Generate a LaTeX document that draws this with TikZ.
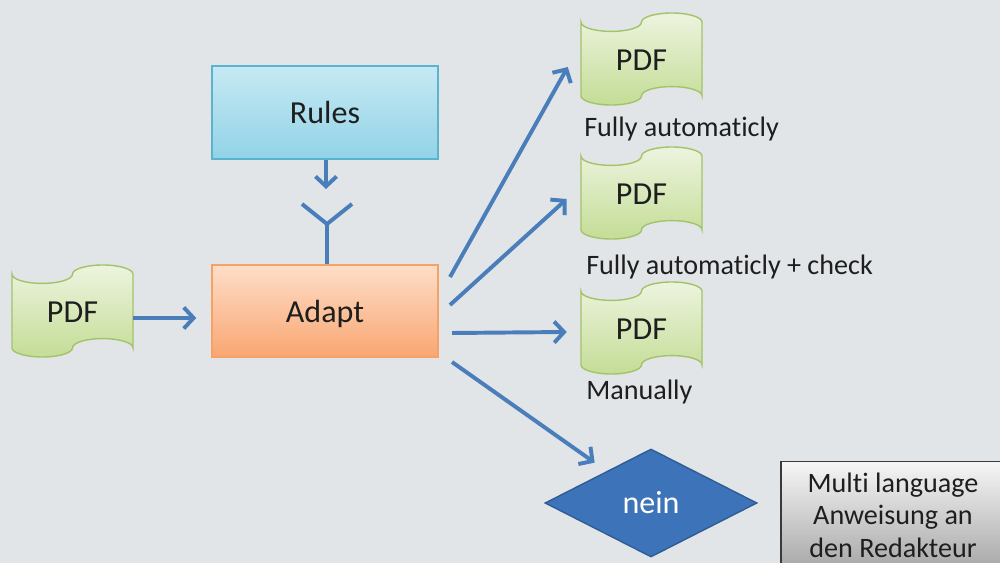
\documentclass[tikz,border=0pt]{standalone}
\usepackage{fontspec}
\setmainfont{Carlito}[Ligatures=NoCommon]
\usetikzlibrary{arrows.meta,shapes.geometric,calc}
\definecolor{bgcol}{HTML}{E2E5E8}
\definecolor{arrowblue}{HTML}{4A7EBB}
\definecolor{greentop}{HTML}{EDF4DF}
\definecolor{greenbot}{HTML}{C4DD96}
\definecolor{greenline}{HTML}{A3C36A}
\definecolor{rulestop}{HTML}{C6E9F3}
\definecolor{rulesbot}{HTML}{92D3E7}
\definecolor{rulesline}{HTML}{5BB4CD}
\definecolor{adapttop}{HTML}{FDDEC8}
\definecolor{adaptbot}{HTML}{FAA672}
\definecolor{adaptline}{HTML}{F5A264}
\definecolor{diafill}{HTML}{3D74B9}
\definecolor{dialine}{HTML}{2F5C94}
\definecolor{graytop}{HTML}{F6F6F6}
\definecolor{graybot}{HTML}{A8A8A8}
\definecolor{grayline}{HTML}{3A3A3A}
\definecolor{txt}{HTML}{1E1E1E}
\tikzset{
  boxtext/.style={font=\fontsize{22.8pt}{27pt}\selectfont, text=txt},
  lbl/.style={font=\fontsize{20pt}{24pt}\selectfont, text=txt, inner sep=0pt},
  rulebox/.style={rectangle, draw=rulesline, line width=1pt, top color=rulestop, bottom color=rulesbot,
     minimum width=226*0.025cm, minimum height=93*0.025cm, boxtext},
  adaptbox/.style={rectangle, draw=adaptline, line width=1pt, top color=adapttop, bottom color=adaptbot,
     minimum width=226*0.025cm, minimum height=92*0.025cm, boxtext, text depth=0pt},
  tapenode/.style={rectangle, minimum width=121*0.025cm, minimum height=92*0.025cm, inner sep=0pt, boxtext},
  tapefill/.style={draw=greenline, line width=1pt, top color=greentop, bottom color=greenbot},
  dia/.style={diamond, draw=dialine, line width=1pt, fill=diafill, inner sep=0pt,
     minimum width=212*0.025cm, minimum height=108*0.025cm, boxtext, text=white},
  graybox/.style={rectangle, draw=grayline, line width=0.8pt, top color=graytop, bottom color=graybot,
     minimum width=224*0.025cm, minimum height=107*0.025cm, align=center,
     font=\fontsize{20pt}{23.1pt}\selectfont, text=txt},
  arr/.style={draw=arrowblue, line width=2.8pt, -{Straight Barb[length=7pt,width=15pt]}},
  plainline/.style={draw=arrowblue, line width=2.8pt},
}
\newcommand\pdftape[3]{%
  \begin{scope}[shift={(#2,#3)}]
    \path[tapefill] (0,9.2)
      .. controls (0,14.28) and (13.55,18.4) .. (30.25,18.4)
      .. controls (46.95,18.4) and (60.5,14.28) .. (60.5,9.2)
      .. controls (60.5,4.12) and (74.05,0) .. (90.75,0)
      .. controls (107.45,0) and (121,4.12) .. (121,9.2)
      -- (121,82.8)
      .. controls (121,77.72) and (107.45,73.6) .. (90.75,73.6)
      .. controls (74.05,73.6) and (60.5,77.72) .. (60.5,82.8)
      .. controls (60.5,87.88) and (46.95,92) .. (30.25,92)
      .. controls (13.55,92) and (0,87.88) .. (0,82.8) -- cycle;
  \end{scope}
  \node[tapenode] (#1) at (#2+60.5,#3+47) {PDF};%
}
\begin{document}
\begin{tikzpicture}[x=0.025cm, y=-0.025cm]
\useasboundingbox (0,0) rectangle (1000,563);
\fill[bgcol] (0,0) rectangle (1000,563);

% boxes
\node[rulebox] (rules) at (325,112.5) {Rules};
\node[adaptbox] (adapt) at (325,311) {Adapt};

% PDF shapes
\pdftape{pdfin}{12}{265}
\pdftape{pdfa}{581}{13}
\pdftape{pdfb}{581}{147}
\pdftape{pdfc}{581}{282}

% labels
\node[lbl, anchor=base west] (la) at (584,137) {Fully automat\kern0pt icly};
\node[lbl, anchor=base west] (lb) at (586,275) {Fully automat\kern0pt icly + check};
\node[lbl, anchor=base west] (lc) at (586,400) {Manually};

% decision and note
\node[dia] (nein) at (651,503) {nein};
\node[graybox] (multi) at (893,515) {Mult\kern0pt i language\\Anweisung an\\den Redakteur};

% rules -> fork
\coordinate (rtip) at (326,189);
\draw[arr] (rules.south -| rtip) -- (rtip);
\coordinate (fl) at (302,204);
\coordinate (fr) at (352,204);
\coordinate (fc) at (327,224);
\draw[plainline] (fl) -- (fc) -- (fr);
\draw[plainline] (fc) -- (fc |- adapt.north);

% input arrow
\draw[arr] ($(pdfin.east)+(0,6)$) -- ($(adapt.west)+(-15,7)$);

% output arrows
\coordinate (sa) at (450,277);
\coordinate (sb) at (450,305);
\coordinate (sc) at (452,333);
\coordinate (sd) at (452,362);
\draw[arr] (sa) -- ($(pdfa.west)+(-13,7)$);
\draw[arr] (sb) -- ($(pdfb.west)+(-14,5)$);
\draw[arr] (sc) -- ($(pdfc.west)+(-14,3)$);
\draw[arr] (sd) -- ($(nein.north west)+(-3,-13)$);
\end{tikzpicture}
\end{document}
